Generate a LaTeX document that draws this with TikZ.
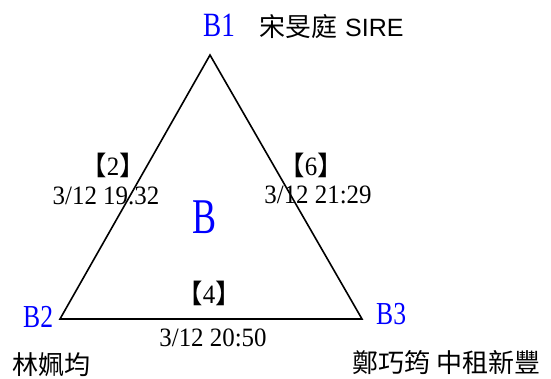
\documentclass[tikz,border=0pt]{standalone}
\usepackage{fontspec}
\setmainfont{Liberation Serif}
\newfontfamily\cjk{Noto Sans CJK TC}
\newfontfamily\sansf{Liberation Sans}
\newfontfamily\bigf[FakeStretch=0.72]{Liberation Serif}
\newfontfamily\labf[FakeStretch=0.8]{Liberation Serif}
\newfontfamily\stampf[FakeStretch=0.94]{Liberation Serif}
\begin{document}
\begin{tikzpicture}[x=1pt,y=-1pt,
  vlabel/.style={text=blue,inner sep=0pt,anchor=base west,font=\labf\fontsize{32}{32}\selectfont},
  person/.style={inner sep=0pt,anchor=base west,font=\cjk\fontsize{26}{26}\selectfont},
  count/.style={inner sep=0pt,anchor=base,font=\stampf\fontsize{26.5}{26.5}\selectfont},
  stamp/.style={inner sep=0pt,anchor=base,font=\stampf\fontsize{26.5}{26.5}\selectfont},
  edge/.style={line width=1.6pt,line join=miter}]
\useasboundingbox (0,0) rectangle (551,378);
\coordinate (v1) at (210,55);
\coordinate (v2) at (60,319);
\coordinate (v3) at (362,319);
\draw[edge] (v1) -- (v2) -- (v3) -- cycle;
% vertex labels
\node[vlabel,font=\labf\fontsize{34}{34}\selectfont] (b1) at (203,36) {B1};
\node[vlabel] (b2) at (23,327) {B2};
\node[vlabel] (b3) at (376,324) {B3};
\node[inner sep=0pt,anchor=base,text=blue,font=\bigf\fontsize{50}{50}\selectfont] (bc) at (205,233) {B};
% people
\node[person] (p1) at (259,36) {宋旻庭\hspace{8pt}{\sansf\fontsize{25}{25}\selectfont SIRE}};
\node[person] (p2) at (12,374) {林姵均};
\node[person] (p3) at (352,372) {鄭巧筠 中租新豐};
% edge labels
\node[count] (c2) at (113,175) {{\cjk 【}2{\cjk 】}};
\node[stamp] (s2) at (106,204) {3/12 19.32};
\node[count] (c6) at (311,175) {{\cjk 【}6{\cjk 】}};
\node[stamp] (s6) at (318,203) {3/12 21:29};
\node[count] (c4) at (209,303) {{\cjk 【}4{\cjk 】}};
\node[stamp] (s4) at (213,346) {3/12 20:50};
\end{tikzpicture}
\end{document}
